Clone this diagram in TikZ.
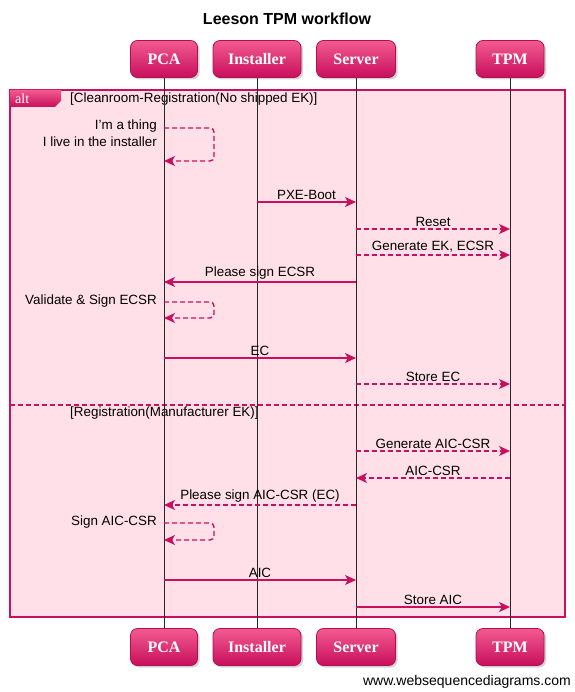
\documentclass[tikz,border=0pt]{standalone}
\usepackage{fontspec}
\setmainfont{Liberation Sans}
\newfontfamily\boxfont{Liberation Serif}
\usetikzlibrary{arrows.meta,shadows}
\definecolor{mag}{HTML}{C8105F}
\definecolor{framefill}{HTML}{FFE0E9}
\definecolor{boxtop}{HTML}{F25A90}
\definecolor{boxbot}{HTML}{C80F5C}
\tikzset{
  part/.style={rounded corners=7pt, top color=boxtop, bottom color=boxbot, draw=boxbot!90!black,
    line width=0.8pt, minimum height=37pt, inner sep=0pt, text=white,
    font=\boxfont\bfseries\fontsize{16}{17}\selectfont,
    drop shadow={shadow xshift=2pt, shadow yshift=-2pt, opacity=0.35}},
  life/.style={line width=0.8pt, draw=black!85},
  msg/.style={line width=1.4pt, draw=mag, -{Stealth[length=11pt,width=10pt,inset=3pt]}},
  dmsg/.style={msg, dash pattern=on 5pt off 3pt},
  lbl/.style={font=\fontsize{13.4}{15}\selectfont, inner sep=2pt, anchor=south},
  side/.style={font=\fontsize{13.4}{17}\selectfont, inner sep=0pt, align=right},
}
\begin{document}
\begin{tikzpicture}[x=1pt,y=-1pt]
\useasboundingbox (0,0) rectangle (574,692);
\fill[white] (0,0) rectangle (574,692);
\node[font=\bfseries\fontsize{16}{18}\selectfont] (title) at (287,19) {Leeson TPM workflow};
% alt frame
\draw[mag, line width=1.3pt, fill=framefill] (10,90) rectangle (565,617);
\draw[mag, line width=1.2pt, dash pattern=on 5pt off 3pt] (10,405) -- (565,405);
\path[top color=boxtop, bottom color=boxbot] (10,90) -- (61,90) -- (61,101) -- (55,107) -- (10,107) -- cycle;
\node[text=white, font=\boxfont\fontsize{14}{15}\selectfont, anchor=west, inner sep=0pt] (alt) at (15,99) {alt};
\node[anchor=west, font=\fontsize{13.4}{15}\selectfont, inner sep=0pt] (g1) at (70,99) {[Cleanroom-Registration(No shipped EK)]};
\node[anchor=west, font=\fontsize{13.4}{15}\selectfont, inner sep=0pt] (g2) at (70,413) {[Registration(Manufacturer EK)]};
% participants
\foreach \n/\x/\w/\t in {PCA/164/67/PCA, Inst/257/88/Installer, Srv/356/79/Server, TPM/510/68/TPM}{
  \node[part, minimum width=\w pt] (\n top) at (\x,59) {\t};
  \node[part, minimum width=\w pt] (\n bot) at (\x,647) {\t};
}
\foreach \n in {PCA,Inst,Srv,TPM}{
  \draw[life] (\n top.south) -- (\n bot.north);
}
\foreach \n/\x in {PCA/164,Inst/257,Srv/356,TPM/510}{
  \coordinate (\n) at (\x,0);
}
\newcommand\msgline[5]{% style, from, to, y, label
  \coordinate (a) at (#2 |- 0,#4);
  \coordinate (b) at (#3 |- 0,#4);
  \draw[#1] (a) -- node[lbl, pos=0.5] {#5} (b);
}
\msgline{msg}{Inst}{Srv}{202}{PXE-Boot}
\msgline{dmsg}{Srv}{TPM}{229}{Reset}
\msgline{dmsg}{Srv}{TPM}{255}{Generate EK, ECSR}
\msgline{msg}{Srv}{PCA}{282}{Please sign ECSR}
\msgline{msg}{PCA}{Srv}{358}{EC}
\msgline{dmsg}{Srv}{TPM}{384}{Store EC}
\msgline{dmsg}{Srv}{TPM}{451}{Generate AIC-CSR}
\msgline{dmsg}{TPM}{Srv}{478}{AIC-CSR}
\msgline{dmsg}{Srv}{PCA}{505}{Please sign AIC-CSR (EC)}
\msgline{msg}{PCA}{Srv}{580}{AIC}
\msgline{msg}{Srv}{TPM}{607}{Store AIC}
% self messages
\draw[dmsg, rounded corners=4pt] (PCA |- 0,128) -- (214,128) -- (214,161) -- (PCA |- 0,161);
\node[side, anchor=north east] (t1) at (157,120) {I{\char"0027}m a thing\\I live in the installer};
\draw[dmsg, rounded corners=4pt] (PCA |- 0,302) -- (214,302) -- (214,318) -- (PCA |- 0,318);
\node[side, anchor=east] (t2) at (157,301) {Validate \& Sign ECSR};
\draw[dmsg, rounded corners=4pt] (PCA |- 0,523) -- (214,523) -- (214,540) -- (PCA |- 0,540);
\node[side, anchor=east] (t3) at (157,522) {Sign AIC-CSR};
\node[anchor=east, font=\fontsize{14}{15}\selectfont, inner sep=0pt] (foot) at (571,682) {www.websequencediagrams.com};
\end{tikzpicture}
\end{document}
